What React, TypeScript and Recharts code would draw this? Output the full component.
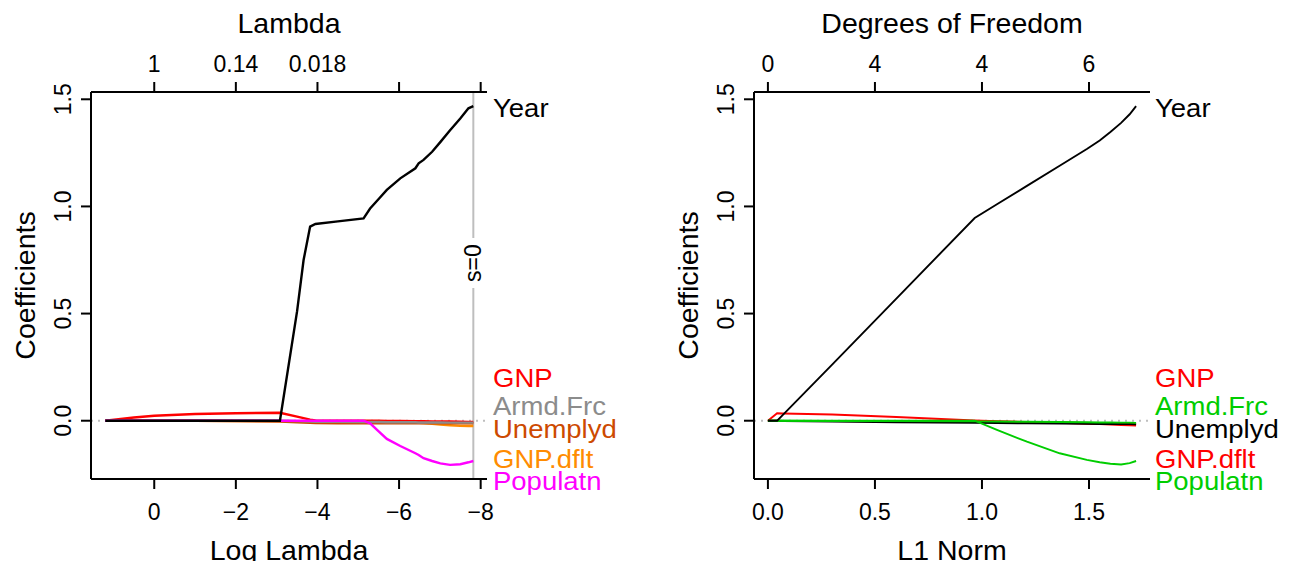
import React from 'react';
import { LineChart, Line, XAxis, YAxis, ReferenceLine, ReferenceDot } from 'recharts';

const FONT = '"Liberation Sans", Arimo, Arial, Helvetica, sans-serif';

// ---------- Left panel: coefficients vs log(lambda) ----------
const logLambda = [1.2, 0.5, 0, -1, -2, -3.08, -3.5, -3.66, -3.82, -3.95, -4.5, -5.13, -5.29, -5.5, -5.7, -6.03, -6.4, -6.48, -6.6, -6.81, -7.01, -7.25, -7.5, -7.7, -7.82];
const leftYear = [0, 0, 0, 0, 0, 0, 0.51, 0.75, 0.906, 0.918, 0.93, 0.944, 0.99, 1.035, 1.077, 1.131, 1.178, 1.201, 1.217, 1.255, 1.3, 1.355, 1.41, 1.458, 1.468];
const leftGNP = [0, 0.015, 0.023, 0.031, 0.035, 0.037, 0.019, 0.012, 0.005, 0.001, 0, 0, 0, 0, -0.001, -0.001, -0.002, -0.002, -0.002, -0.003, -0.003, -0.004, -0.005, -0.006, -0.006];
const leftArmd = [0, 0, 0, 0, 0, 0, -0.002, -0.003, -0.004, -0.005, -0.005, -0.006, -0.006, -0.006, -0.007, -0.007, -0.007, -0.008, -0.008, -0.008, -0.008, -0.009, -0.009, -0.009, -0.009];
const leftUnemp = [0, 0, 0, 0, -0.002, -0.004, -0.007, -0.008, -0.01, -0.011, -0.012, -0.012, -0.012, -0.012, -0.012, -0.012, -0.012, -0.012, -0.012, -0.012, -0.012, -0.012, -0.012, -0.012, -0.012];
const leftGNPdflt = [0, 0, 0, 0, -0.001, -0.002, -0.004, -0.005, -0.006, -0.006, -0.007, -0.007, -0.008, -0.008, -0.008, -0.009, -0.01, -0.01, -0.011, -0.014, -0.018, -0.021, -0.024, -0.025, -0.025];
const leftPop = [0, 0, 0, 0, 0, 0, 0, 0, 0, 0, 0, 0, -0.012, -0.05, -0.085, -0.118, -0.152, -0.16, -0.175, -0.188, -0.199, -0.206, -0.203, -0.194, -0.188];

const leftXDomain = [-8.155, 1.55];
const leftXTicks = [0, -2, -4, -6, -8];
const leftTopLabels = ['1', '0.14', '0.018', '', ''];
const sZeroX = -7.82;
const sZeroLabelY = 0.736;

// ---------- Right panel: coefficients vs L1 norm ----------
const l1Norm = [0, 0.043, 0.07, 0.3, 0.6, 0.966, 1.07, 1.21, 1.363, 1.49, 1.55, 1.6, 1.65, 1.69, 1.72];
const rightYear = [0, 0, 0.027, 0.262, 0.57, 0.946, 1.01, 1.096, 1.19, 1.268, 1.308, 1.347, 1.39, 1.43, 1.468];
const rightGNP = [0, 0.035, 0.034, 0.029, 0.017, 0.001, -0.002, -0.006, -0.01, -0.014, -0.016, -0.018, -0.02, -0.021, -0.022];
const rightGNPdflt = [0, 0, -0.001, -0.002, -0.003, -0.004, -0.005, -0.006, -0.008, -0.01, -0.011, -0.012, -0.013, -0.014, -0.015];
const rightUnemp = [0, 0, -0.001, -0.004, -0.007, -0.01, -0.011, -0.012, -0.013, -0.014, -0.015, -0.015, -0.016, -0.016, -0.017];
const rightArmd = [0, 0, 0, -0.001, -0.002, -0.003, -0.004, -0.005, -0.006, -0.007, -0.008, -0.008, -0.009, -0.009, -0.01];
const rightPop = [0, 0, 0, 0, 0, 0, -0.043, -0.098, -0.152, -0.183, -0.194, -0.201, -0.204, -0.198, -0.188];

const rightXDomain = [-0.065, 1.785];
const rightXTicks = [0, 0.5, 1, 1.5];
const rightTopLabels = ['0', '4', '4', '6'];

// ---------- shared ----------
const yDomain = [-0.272, 1.534];
const yTicks = [0, 0.5, 1, 1.5];
const seriesKeys = ['GNP.dflt', 'GNP', 'Unemplyd', 'Armd.Frc', 'Populatn', 'Year'];
const labelNames = ['Year', 'GNP', 'Armd.Frc', 'Unemplyd', 'GNP.dflt', 'Populatn'];
const labelY = [1.461, 0.2, 0.069, -0.039, -0.178, -0.28];

const leftColors: Record<string, string> = {
  'GNP.dflt': '#FF8C00',
  GNP: '#FF0000',
  Unemplyd: '#CD4A00',
  'Armd.Frc': '#8C8C8C',
  Populatn: '#FF00FF',
  Year: '#000000',
};
const rightColors: Record<string, string> = {
  'GNP.dflt': '#FF0000',
  GNP: '#FF0000',
  Unemplyd: '#000000',
  'Armd.Frc': '#00CD00',
  Populatn: '#00CD00',
  Year: '#000000',
};

const leftData = logLambda.map((x, i) => ({
  x,
  Year: leftYear[i],
  GNP: leftGNP[i],
  'Armd.Frc': leftArmd[i],
  Unemplyd: leftUnemp[i],
  'GNP.dflt': leftGNPdflt[i],
  Populatn: leftPop[i],
}));
const rightData = l1Norm.map((x, i) => ({
  x,
  Year: rightYear[i],
  GNP: rightGNP[i],
  'Armd.Frc': rightArmd[i],
  Unemplyd: rightUnemp[i],
  'GNP.dflt': rightGNPdflt[i],
  Populatn: rightPop[i],
}));

const TICK_FS = 23;
const TITLE_FS = 28.5;
const LABEL_FS = 25;
const LABEL_STRETCH = 1.1;

const fmtMinus = (v: number) => (v < 0 ? '\u2212' + Math.abs(v) : String(v));

const bottomTick = (fmt: (v: number) => string) => (props: any) => {
  const { x, y, payload } = props;
  return (
    <text x={x} y={y + 31} textAnchor="middle" fontSize={TICK_FS} fontFamily={FONT} fill="#000">
      {fmt(payload.value)}
    </text>
  );
};

const topTick = (ticks: number[], labels: string[]) => (props: any) => {
  const { x, y, payload } = props;
  const idx = ticks.indexOf(payload.value);
  const txt = idx >= 0 ? labels[idx] : '';
  return (
    <text x={x} y={y - 10} textAnchor="middle" fontSize={TICK_FS} fontFamily={FONT} fill="#000">
      {txt}
    </text>
  );
};

const yTick = (props: any) => {
  const { x, y, payload } = props;
  const bx = x - 10;
  return (
    <text
      x={bx}
      y={y}
      transform={`rotate(-90 ${bx} ${y})`}
      textAnchor="middle"
      fontSize={TICK_FS}
      fontFamily={FONT}
      fill="#000"
    >
      {Number(payload.value).toFixed(1)}
    </text>
  );
};

const topTitle = (text: string) => (props: any) => {
  const vb = props.viewBox || {};
  const cx = (vb.x ?? 0) + (vb.width ?? 0) / 2;
  return (
    <text x={cx} y={33} textAnchor="middle" fontSize={TITLE_FS} fontFamily={FONT} fill="#000">
      {text}
    </text>
  );
};

const bottomTitle = (text: string) => (props: any) => {
  const vb = props.viewBox || {};
  const cx = (vb.x ?? 0) + (vb.width ?? 0) / 2;
  const by = (vb.y ?? 479) + 81;
  return (
    <text x={cx} y={by} textAnchor="middle" fontSize={TITLE_FS} fontFamily={FONT} fill="#000">
      {text}
    </text>
  );
};

const leftTitle = (text: string) => (props: any) => {
  const vb = props.viewBox || {};
  const bx = (vb.x ?? 0) + (vb.width ?? 0) - 56;
  const cy = (vb.y ?? 92) + (vb.height ?? 387) / 2;
  return (
    <text
      x={bx}
      y={cy}
      transform={`rotate(-90 ${bx} ${cy})`}
      textAnchor="middle"
      fontSize={TITLE_FS}
      fontFamily={FONT}
      fill="#000"
    >
      {text}
    </text>
  );
};

const sideLabel = (name: string, color: string, dx: number) => (props: any) => {
  const { cx, cy } = props;
  return (
    <text
      x={0}
      y={0}
      transform={`translate(${cx + dx} ${cy + 9}) scale(${LABEL_STRETCH} 1)`}
      fontSize={LABEL_FS}
      fontFamily={FONT}
      fill={color}
    >
      {name}
    </text>
  );
};

const sZeroShape = (props: any) => {
  const { cx, cy } = props;
  const bx = cx + 8;
  return (
    <g>
      <rect x={cx - 11} y={cy - 25} width={22} height={50} fill="#FFFFFF" />
      <text
        x={bx}
        y={cy}
        transform={`rotate(-90 ${bx} ${cy})`}
        textAnchor="middle"
        fontSize={TICK_FS}
        fontFamily={FONT}
        fill="#000"
      >
        s=0
      </text>
    </g>
  );
};

type PanelProps = {
  data: any[];
  xDomain: number[];
  xTicks: number[];
  reversed: boolean;
  bottomFmt: (v: number) => string;
  topLabels: string[];
  topText: string;
  bottomText: string;
  colors: Record<string, string>;
  yAxisWidth: number;
  rightMargin: number;
  width: number;
  lineWidth: number;
  labelDx: number;
  showSZero: boolean;
};

function Panel(p: PanelProps) {
  const labelX = p.reversed ? p.xDomain[0] : p.xDomain[1];
  return (
    <LineChart
      width={p.width}
      height={561}
      data={p.data}
      margin={{ top: 0, right: p.rightMargin, bottom: 0, left: 0 }}
    >
      <XAxis
        xAxisId={0}
        dataKey="x"
        type="number"
        domain={p.xDomain}
        ticks={p.xTicks}
        reversed={p.reversed}
        allowDataOverflow
        interval={0}
        height={82}
        tickSize={10}
        tickMargin={0}
        axisLine={{ stroke: '#000', strokeWidth: 2 }}
        tickLine={{ stroke: '#000', strokeWidth: 2 }}
        tick={bottomTick(p.bottomFmt)}
        label={{ content: bottomTitle(p.bottomText) }}
      />
      <XAxis
        xAxisId="top"
        orientation="top"
        dataKey="x"
        type="number"
        domain={p.xDomain}
        ticks={p.xTicks}
        reversed={p.reversed}
        allowDataOverflow
        interval={0}
        height={92}
        tickSize={10}
        tickMargin={0}
        axisLine={{ stroke: '#000', strokeWidth: 2 }}
        tickLine={{ stroke: '#000', strokeWidth: 2 }}
        tick={topTick(p.xTicks, p.topLabels)}
        label={{ content: topTitle(p.topText) }}
      />
      <YAxis
        yAxisId={0}
        type="number"
        domain={yDomain}
        ticks={yTicks}
        allowDataOverflow
        interval={0}
        width={p.yAxisWidth}
        tickSize={10}
        tickMargin={0}
        axisLine={{ stroke: '#000', strokeWidth: 2 }}
        tickLine={{ stroke: '#000', strokeWidth: 2 }}
        tick={yTick}
        label={{ content: leftTitle('Coefficients') }}
      />
      <YAxis
        yAxisId="r"
        orientation="right"
        type="number"
        domain={yDomain}
        allowDataOverflow
        width={0}
        tick={false}
        tickLine={false}
        axisLine={{ stroke: '#000', strokeWidth: 2 }}
      />
      <ReferenceLine y={0} stroke="#BEBEBE" strokeWidth={2} strokeDasharray="2 5" />
      {p.showSZero && (
        <ReferenceLine x={sZeroX} stroke="#BEBEBE" strokeWidth={2} ifOverflow="hidden" />
      )}
      {seriesKeys.map((k) => (
        <Line
          key={k}
          dataKey={k}
          type="linear"
          stroke={p.colors[k]}
          strokeWidth={p.lineWidth}
          dot={false}
          activeDot={false}
          isAnimationActive={false}
        />
      ))}
      {p.showSZero && (
        <ReferenceDot x={sZeroX} y={sZeroLabelY} r={1} ifOverflow="visible" shape={sZeroShape} />
      )}
      {labelNames.map((name, i) => (
        <ReferenceDot
          key={name}
          x={labelX}
          y={labelY[i]}
          r={1}
          ifOverflow="visible"
          shape={sideLabel(name, p.colors[name], p.labelDx)}
        />
      ))}
    </LineChart>
  );
}

export default function App() {
  return (
    <div
      style={{
        position: 'absolute',
        left: 0,
        top: 0,
        width: 1295,
        height: 561,
        background: '#FFFFFF',
        overflow: 'hidden',
      }}
    >
      <div style={{ position: 'absolute', left: 0, top: 0 }}>
        <Panel
          data={leftData}
          xDomain={leftXDomain}
          xTicks={leftXTicks}
          reversed={true}
          bottomFmt={fmtMinus}
          topLabels={leftTopLabels}
          topText="Lambda"
          bottomText="Log Lambda"
          colors={leftColors}
          yAxisWidth={91}
          rightMargin={160}
          width={647}
          lineWidth={2.4}
          labelDx={6}
          showSZero={true}
        />
      </div>
      <div style={{ position: 'absolute', left: 647, top: 0 }}>
        <Panel
          data={rightData}
          xDomain={rightXDomain}
          xTicks={rightXTicks}
          reversed={false}
          bottomFmt={(v) => v.toFixed(1)}
          topLabels={rightTopLabels}
          topText="Degrees of Freedom"
          bottomText="L1 Norm"
          colors={rightColors}
          yAxisWidth={107}
          rightMargin={145}
          width={648}
          lineWidth={1.9}
          labelDx={5}
          showSZero={false}
        />
      </div>
    </div>
  );
}
